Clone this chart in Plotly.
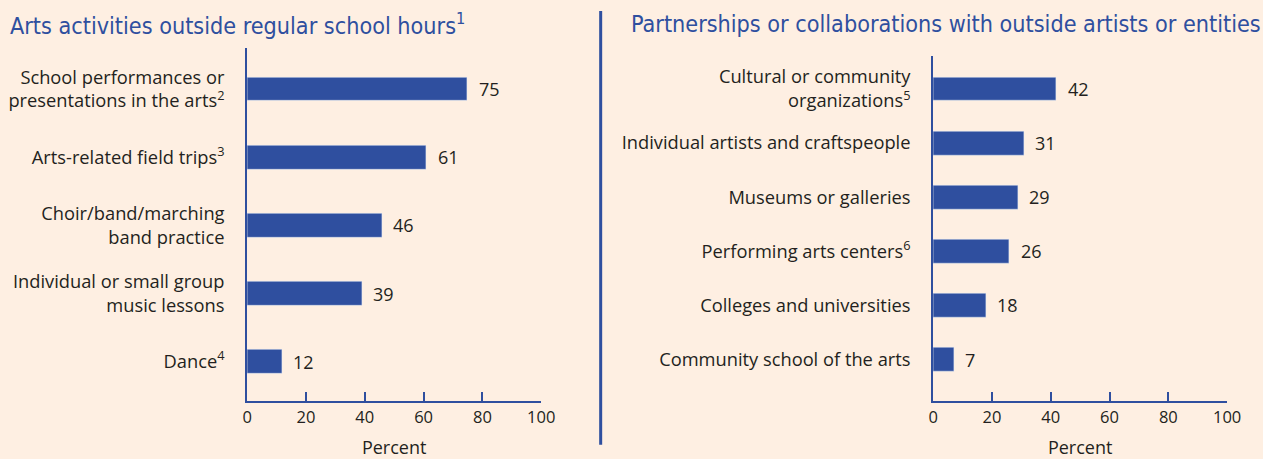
import plotly.graph_objects as go

left_title = "Arts activities outside regular school hours<sup>1</sup>"
left_labels = [
    "School performances or<br>presentations in the arts<sup>2</sup>",
    "Arts-related field trips<sup>3</sup>",
    "Choir/band/marching<br>band practice",
    "Individual or small group<br>music lessons",
    "Dance<sup>4</sup>",
]
left_values = [75, 61, 46, 39, 12]

right_title = "Partnerships or collaborations with outside artists or entities"
right_labels = [
    "Cultural or community<br>organizations<sup>5</sup>",
    "Individual artists and craftspeople",
    "Museums or galleries",
    "Performing arts centers<sup>6</sup>",
    "Colleges and universities",
    "Community school of the arts",
]
right_values = [42, 31, 29, 26, 18, 7]

x_ticks = [0, 20, 40, 60, 80, 100]
x_title = "Percent"

BG = "#FEEFE2"
BLUE = "#2F4F9F"
TXT = "#231F20"
W, H = 1263, 459
LABEL_FONT = "Open Sans"
TITLE_FONT = "DejaVu Sans Condensed"

# observed mapping from layout pixels to pictured pixels
SX, OX, SY = 0.985, 3.8, 0.983


def fx(r):
    return ((r - OX) / SX) / W


def fy(r):
    return 1 - (r / SY) / H


fig = go.Figure()
fig.add_trace(go.Bar(x=left_values, y=left_labels, orientation="h", marker_color=BLUE,
                     width=0.35, xaxis="x", yaxis="y", hoverinfo="skip"))
fig.add_trace(go.Bar(x=right_values, y=right_labels, orientation="h", marker_color=BLUE,
                     width=0.44, xaxis="x2", yaxis="y2", hoverinfo="skip"))

annotations = []
for lab, v in zip(left_labels, left_values):
    annotations.append(dict(x=v, y=lab, xref="x", yref="y", text=str(v), showarrow=False,
                            xanchor="left", xshift=9, font=dict(size=18, color=TXT, family=LABEL_FONT)))
for lab, v in zip(right_labels, right_values):
    annotations.append(dict(x=v, y=lab, xref="x2", yref="y2", text=str(v), showarrow=False,
                            xanchor="left", xshift=9, font=dict(size=18, color=TXT, family=LABEL_FONT)))
annotations.append(dict(x=fx(6.5), y=fy(24), xref="paper", yref="paper", text=left_title,
                        showarrow=False, xanchor="left", yanchor="middle",
                        font=dict(size=23.2, color=BLUE, family=TITLE_FONT)))
annotations.append(dict(x=fx(627.4), y=fy(24), xref="paper", yref="paper", text=right_title,
                        showarrow=False, xanchor="left", yanchor="middle",
                        font=dict(size=23.2, color=BLUE, family=TITLE_FONT)))

axis_x = dict(range=[0, 100], tickvals=x_ticks, ticks="inside", ticklen=9, tickwidth=2,
              tickcolor=BLUE, showline=True, linecolor=BLUE, linewidth=2, showgrid=False,
              zeroline=False, fixedrange=True,
              tickfont=dict(size=16.5, color=TXT, family=LABEL_FONT),
              title=dict(text=x_title, standoff=18, font=dict(size=18, color=TXT, family=LABEL_FONT)))

axis_y = dict(type="category", showline=True, linecolor=BLUE, linewidth=2, showgrid=False,
              zeroline=False, ticks="outside", ticklen=17, tickcolor="rgba(0,0,0,0)",
              tickfont=dict(size=18.3, color=TXT, family=LABEL_FONT), fixedrange=True)

fig.update_layout(
    width=W, height=H, autosize=False, margin=dict(l=0, r=0, t=0, b=0),
    paper_bgcolor=BG, plot_bgcolor=BG, showlegend=False, bargap=0,
    xaxis=dict(axis_x, domain=[fx(246), fx(540)], anchor="y"),
    yaxis=dict(axis_y, domain=[fy(405), fy(48)], anchor="x",
               categoryorder="array", categoryarray=left_labels, range=[4.58, -0.61]),
    xaxis2=dict(axis_x, domain=[fx(932), fx(1226)], anchor="y2"),
    yaxis2=dict(axis_y, domain=[fy(405), fy(57)], anchor="x2",
                categoryorder="array", categoryarray=right_labels, range=[5.77, -0.60]),
    annotations=annotations,
    shapes=[dict(type="line", xref="paper", yref="paper", x0=fx(599.5), x1=fx(599.5),
                 y0=fy(449), y1=fy(11), line=dict(color=BLUE, width=3))],
)

post = (
    "document.documentElement.style.overflow='hidden';"
    "document.body.style.overflow='hidden';"
    "document.body.style.margin='0';"
    "document.body.style.background='%s';" % BG
)
fig.write_html("out.html", config={"displayModeBar": False}, post_script=post)
